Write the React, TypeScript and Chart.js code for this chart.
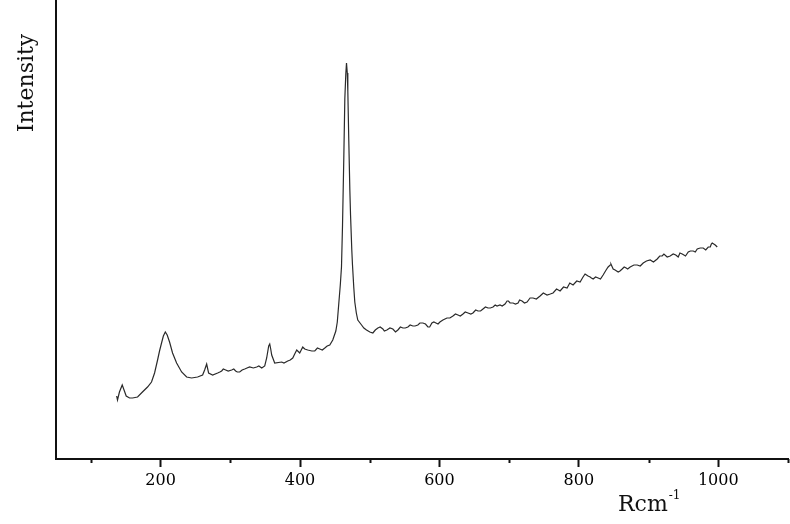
import React, { useEffect, useRef } from "react";
import { Chart, registerables } from "chart.js";

Chart.register(...registerables);

// Raman shift (cm^-1)
const shifts = [
  137, 138.2, 141, 145, 147.6, 150.7, 155.5, 159.8, 167, 174, 181.3, 187, 191.4, 195.7, 198.5, 201.4,
  204, 206.8, 209.5, 212.9, 217.2, 223, 230.2, 237.4, 244.5, 253.1, 260.3, 263.2, 266.1, 268.9, 274.7,
  281.9, 285, 287.6, 290, 293.4, 297, 302, 305, 307.7, 310, 313.5, 317, 320.7, 324, 327.8, 333, 337.9,
  341, 345.1, 349.4, 352.2, 355.1, 356.6, 358, 359.4, 363.7, 373.8, 377, 382.4, 386, 389.6, 392.4,
  395.3, 398.2, 399.6, 403.9, 406.8, 411.1, 417, 421.2, 425, 428.4, 432, 435.6, 439, 442.7, 447,
  451.4, 453.5, 455.7, 457.8, 459.5, 461, 462.8, 464.3, 465.7, 466.7, 467.8, 468.6, 470, 471.5,
  472.5, 474.3, 475.3, 477.2, 478.6, 480.8, 482.9, 488.3, 491.6, 495.4, 500.2, 504.5, 508, 511.7,
  515, 518.9, 521, 524.6, 529, 533.2, 537, 540.4, 544, 547.6, 551, 554.8, 558, 561.9, 565, 569.1,
  572, 576.3, 580, 583.5, 586, 589.2, 592, 595, 598, 600.7, 605, 610.8, 615, 619.4, 623, 626.6, 630,
  633.8, 637, 641, 645, 648.1, 652, 655.3, 659, 662.5, 666, 669.7, 673, 676.9, 680, 682.6, 686.9,
  690, 694.1, 697, 699, 701.3, 705.6, 709, 712.8, 715, 718.5, 722, 725.7, 730, 734.3, 739, 744.4,
  749, 754.4, 759, 763, 768, 773.1, 778, 783.1, 787, 791.7, 797, 801.8, 806, 808.9, 811, 813.2,
  816.2, 818, 820.5, 824, 827.7, 831, 834.8, 839.1, 842, 844.9, 846, 849.2, 852, 856.4, 859, 862.1,
  865, 867.9, 870, 873.6, 879, 883.7, 888, 892.3, 897, 902.3, 907, 912.4, 916, 919.5, 922, 926.7,
  931, 935.3, 939, 942.5, 945, 948.3, 953, 956.9, 960, 964.1, 967, 969.8, 974, 978.4, 982, 985.6,
  988.5, 990, 991.3, 995.6, 998.5,
];

// Intensity (arbitrary units)
const intensity = [
  63, 59, 67, 74, 69, 63, 61, 61, 62, 67, 72, 77, 86, 99, 108, 116,
  123, 127, 124, 117, 106, 96, 87, 82, 81, 82, 84, 89, 95, 86, 84,
  86, 87, 88, 90, 89, 88, 89, 90, 88, 87, 87, 89, 90, 91, 92, 91, 92,
  93, 91, 93, 101, 113, 115, 110, 104, 96, 97, 96, 98, 99, 101, 105,
  109, 107, 106, 112, 110, 109, 108, 108, 111, 110, 109, 111, 113, 114, 119,
  128, 137, 156, 174, 192, 234, 300, 360, 385, 396, 386, 368, 318, 269,
  244, 209, 194, 171, 157, 146, 139, 134, 131, 129, 127, 126, 129, 131,
  132, 130, 128, 129, 131, 130, 127, 129, 132, 131, 131, 132, 134, 133, 133, 134,
  136, 136, 135, 132, 132, 136, 137, 136, 135, 137, 139, 141, 141, 143, 145, 144, 143,
  145, 147, 146, 145, 146, 149, 148, 148, 150, 152, 151, 151, 152, 154, 153, 154,
  153, 155, 158, 158, 156, 156, 155, 156, 159, 158, 156, 157, 161, 161, 160, 163,
  166, 164, 165, 166, 170, 168, 172, 171, 176, 174, 178, 177, 182, 185, 184, 183,
  182, 181, 180, 182, 181, 180, 184, 189, 192, 194, 195, 190, 189, 187, 188, 190,
  192, 191, 190, 192, 194, 194, 193, 196, 198, 199, 197, 200, 203, 203, 205, 202,
  203, 205, 204, 202, 206, 205, 203, 207, 208, 208, 207, 210, 211, 211, 209, 212,
  212, 215, 216, 214, 212,
];

const majorTicks = [200, 400, 600, 800, 1000];
const minorTicks = [100, 300, 500, 700, 900, 1100];
const xTitle = "Rcm";
const xTitleSup = "-1";
const yTitle = "Intensity";

const INK = "#111";
const SERIF = "'DejaVu Serif', serif";

export default function App() {
  const ref = useRef<HTMLCanvasElement | null>(null);

  useEffect(() => {
    if (!ref.current) return;
    const titlesPlugin = {
      id: "titles",
      afterDraw(chart: any) {
        const ctx = chart.ctx;
        const xs = chart.scales.x;
        const area = chart.chartArea;
        ctx.save();
        ctx.strokeStyle = INK;
        ctx.lineWidth = 2;
        minorTicks.forEach((v) => {
          const px = Math.round(xs.getPixelForValue(v)) + 0.5;
          ctx.beginPath();
          ctx.moveTo(px, area.bottom);
          ctx.lineTo(px, area.bottom + 4);
          ctx.stroke();
        });
        ctx.fillStyle = INK;
        ctx.font = `22px ${SERIF}`;
        ctx.textAlign = "center";
        ctx.textBaseline = "middle";
        ctx.translate(27, 83);
        ctx.rotate(-Math.PI / 2);
        ctx.fillText(yTitle, 0, 0);
        ctx.setTransform(1, 0, 0, 1, 0, 0);
        ctx.textAlign = "left";
        ctx.textBaseline = "alphabetic";
        ctx.font = `22px ${SERIF}`;
        ctx.fillText(xTitle, 618, 511);
        const w = ctx.measureText(xTitle).width;
        ctx.font = `12px ${SERIF}`;
        ctx.fillText(xTitleSup, 618 + w + 1, 499);
        ctx.restore();
      },
    };

    const points = shifts
      .map((x, i) => ({ x, y: intensity[i] }))
      .sort((a, b) => a.x - b.x);

    const chart = new Chart(ref.current, {
      type: "line",
      data: {
        datasets: [
          {
            data: points,
            borderColor: "#2a2a2a",
            borderWidth: 1.2,
            pointRadius: 0,
            tension: 0,
            fill: false,
          },
        ],
      },
      options: {
        animation: false,
        responsive: true,
        maintainAspectRatio: false,
        layout: { padding: { top: 0, right: 2, left: 0, bottom: 0 } },
        plugins: { legend: { display: false }, tooltip: { enabled: false } },
        scales: {
          x: {
            type: "linear",
            min: 50,
            max: 1100,
            afterBuildTicks: (s: any) => {
              s.ticks = majorTicks.map((v) => ({ value: v }));
            },
            afterFit: (s: any) => {
              s.height = 65;
            },
            ticks: {
              color: "#000",
              font: { family: SERIF, size: 16 },
              padding: 4,
              maxRotation: 0,
              autoSkip: false,
              callback: (v: any) => String(v),
            },
            grid: {
              display: true,
              drawOnChartArea: false,
              drawTicks: true,
              tickLength: 8,
              tickWidth: 2,
              tickColor: INK,
              color: INK,
            },
            border: { display: true, color: INK, width: 2 },
          },
          y: {
            min: 0,
            max: 459,
            afterFit: (s: any) => {
              s.width = 56;
            },
            ticks: { display: false },
            grid: { display: false },
            border: { display: true, color: INK, width: 2 },
          },
        },
      },
      plugins: [titlesPlugin],
    });
    return () => chart.destroy();
  }, []);

  return (
    <div style={{ position: "fixed", left: 0, top: 0, width: 790, height: 524, background: "#fff" }}>
      <canvas ref={ref} />
    </div>
  );
}
